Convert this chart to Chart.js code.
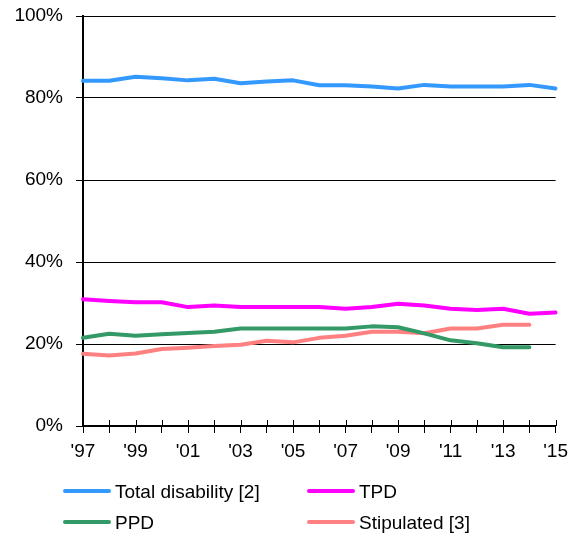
<!DOCTYPE html>
<html>
<head>
<meta charset="utf-8">
<script src="https://cdn.jsdelivr.net/npm/chart.js@4"></script>
<style>
  html, body { margin: 0; padding: 0; background: #fff; }
  #wrap { position: relative; width: 575px; height: 537px; }
  canvas { position: absolute; left: 0; top: 0; }
  .leg { position: absolute; font-family: "Liberation Sans", Arial, sans-serif; font-size: 19px; color: #000; line-height: 22px; white-space: nowrap; }
  .sw { position: absolute; height: 4px; border-radius: 2px; }
</style>
</head>
<body>
<div id="wrap">
  <canvas id="c" width="575" height="537"></canvas>
  <div id="legend"></div>
</div>
<script>
const years = ["'97","'98","'99","'00","'01","'02","'03","'04","'05","'06","'07","'08","'09","'10","'11","'12","'13","'14","'15"];
const totalDisability = [84.2, 84.2, 85.2, 84.8, 84.3, 84.7, 83.6, 84.0, 84.3, 83.1, 83.1, 82.8, 82.3, 83.2, 82.8, 82.8, 82.8, 83.2, 82.3];
const tpd = [30.9, 30.5, 30.2, 30.2, 29.0, 29.4, 29.0, 29.0, 29.0, 29.0, 28.6, 29.0, 29.8, 29.4, 28.6, 28.3, 28.6, 27.4, 27.7];
const ppd = [21.5, 22.5, 22.0, 22.4, 22.7, 23.0, 23.8, 23.8, 23.8, 23.8, 23.8, 24.3, 24.1, 22.6, 20.9, 20.2, 19.2, 19.2, null];
const stipulated = [17.6, 17.2, 17.7, 18.8, 19.1, 19.5, 19.8, 20.8, 20.4, 21.5, 22.0, 23.0, 23.0, 22.6, 23.8, 23.8, 24.7, 24.7, null];
const seriesNames = ["Total disability [2]", "TPD", "PPD", "Stipulated [3]"];
const colors = ["#3399FF", "#FF00FF", "#339966", "#FF8080"];
const yTicks = [0, 20, 40, 60, 80, 100];

const FONT = { family: "'Liberation Sans', Arial, sans-serif", size: 19 };

function ds(label, data, color) {
  return {
    label, data, borderColor: color, backgroundColor: color,
    borderWidth: 4, pointRadius: 0, tension: 0,
    borderJoinStyle: 'round', borderCapStyle: 'round', spanGaps: false
  };
}

// draw the inner half of x-axis tick marks (ticks cross the axis)
const crossTicks = {
  id: 'crossTicks',
  afterDraw(chart) {
    const x = chart.scales.x, ctx = chart.ctx, b = chart.chartArea.bottom;
    ctx.save();
    ctx.strokeStyle = '#000';
    ctx.lineWidth = 1;
    for (let i = 0; i < years.length; i++) {
      const px = Math.round(x.getPixelForValue(i)) + 0.5;
      ctx.beginPath();
      ctx.moveTo(px, b - 6);
      ctx.lineTo(px, b);
      ctx.stroke();
    }
    ctx.restore();
  }
};

new Chart(document.getElementById('c'), {
  type: 'line',
  data: {
    labels: years,
    datasets: [
      ds(seriesNames[0], totalDisability, colors[0]),
      ds(seriesNames[1], tpd, colors[1]),
      ds(seriesNames[2], ppd, colors[2]),
      ds(seriesNames[3], stipulated, colors[3])
    ]
  },
  options: {
    responsive: false,
    animation: false,
    devicePixelRatio: 1,
    layout: { padding: { top: 16, right: 18, left: 0, bottom: 0 } },
    plugins: { legend: { display: false }, tooltip: { enabled: false } },
    scales: {
      x: {
        type: 'category',
        offset: false,
        grid: { drawOnChartArea: false, color: '#000', tickLength: 7, lineWidth: 1 },
        border: { color: '#000', width: 2 },
        ticks: {
          autoSkip: false, maxRotation: 0, color: '#000', font: FONT, padding: 7,
          callback: (v, i) => (i % 2 === 0 ? years[i] : '')
        },
        afterFit: s => { s.height = 111; }
      },
      y: {
        min: 0, max: 100,
        afterBuildTicks: s => { s.ticks = yTicks.map(v => ({ value: v })); },
        grid: { color: '#000', lineWidth: 1, tickLength: 7 },
        border: { color: '#000', width: 2 },
        ticks: { color: '#000', font: FONT, padding: 13, callback: v => v + '%' },
        afterFit: s => { s.width = 83; s.paddingTop = 0; s.paddingBottom = 0; }
      }
    }
  },
  plugins: [crossTicks]
});

// legend (two columns)
const legendPos = [
  { sx: 63, tx: 115, y: 491 },
  { sx: 307, tx: 359, y: 491 },
  { sx: 63, tx: 115, y: 522 },
  { sx: 307, tx: 359, y: 522 }
];
const leg = document.getElementById('legend');
seriesNames.forEach((name, i) => {
  const p = legendPos[i];
  const sw = document.createElement('div');
  sw.className = 'sw';
  sw.style.left = p.sx + 'px';
  sw.style.width = '48px';
  sw.style.top = (p.y - 2) + 'px';
  sw.style.background = colors[i];
  leg.appendChild(sw);
  const t = document.createElement('div');
  t.className = 'leg';
  t.style.left = p.tx + 'px';
  t.style.top = (p.y - 10) + 'px';
  t.textContent = name;
  leg.appendChild(t);
});
</script>
</body>
</html>
